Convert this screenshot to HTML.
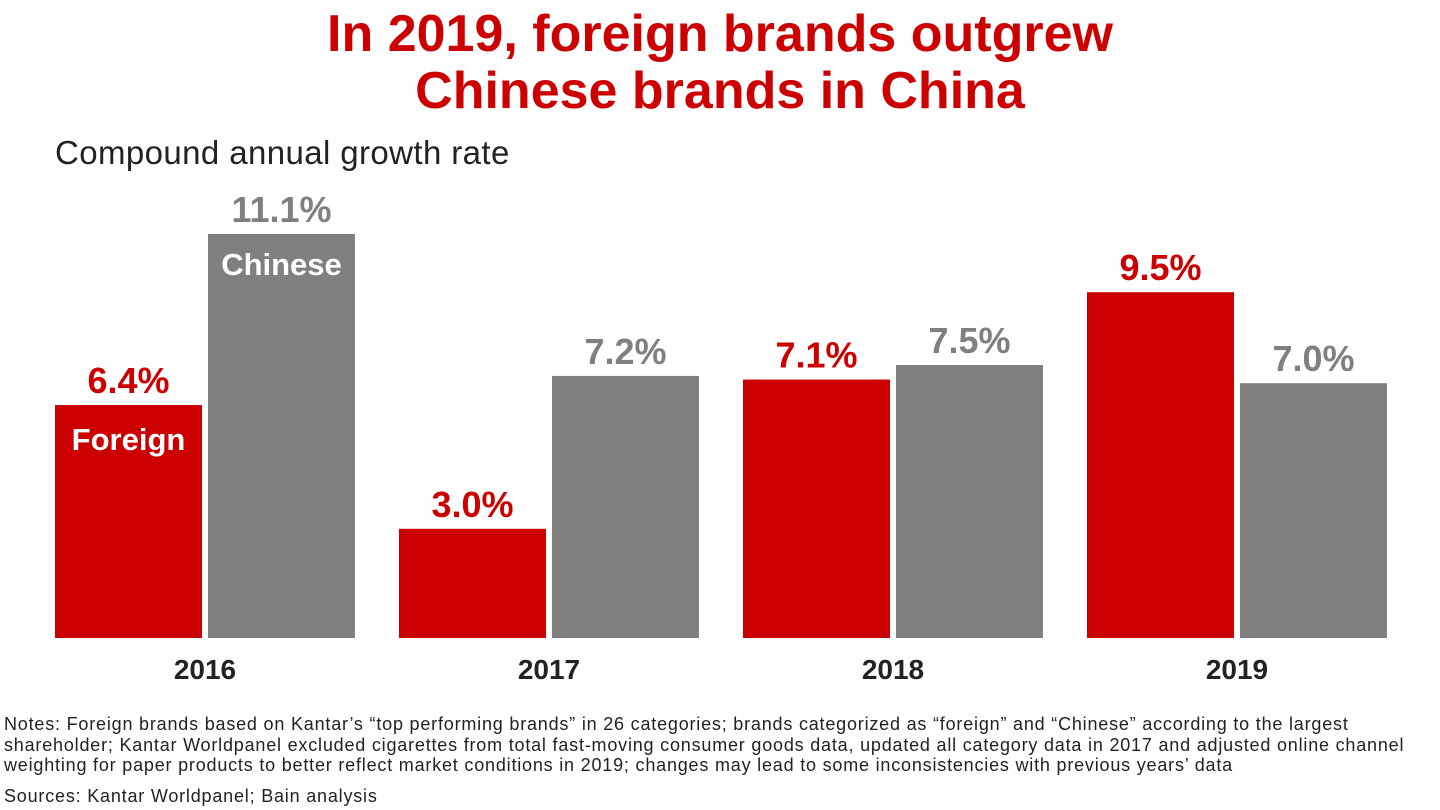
<!DOCTYPE html>
<html><head><meta charset="utf-8"><style>
body{margin:0;width:1440px;height:810px;background:#fff;font-family:"Liberation Sans",sans-serif;overflow:hidden;position:relative}
.t{position:absolute;left:0;width:1440px;text-align:center;color:#cc0000;font-weight:bold;font-size:52px;line-height:57px}
.sub{position:absolute;left:55px;top:134px;font-size:33px;color:#222;letter-spacing:0.4px}
.notes{position:absolute;left:4px;top:714px;font-size:18px;line-height:20.5px;color:#222;width:1432px;letter-spacing:0.8px}
</style></head><body>
<div class="t" style="top:6px">In 2019, foreign brands outgrew<br>Chinese brands in China</div>
<div class="sub">Compound annual growth rate</div>
<svg id="c" width="1440" height="700" style="position:absolute;left:0;top:0"></svg>
<div class="notes">Notes: Foreign brands based on Kantar’s “top performing brands” in 26 categories; brands categorized as “foreign” and “Chinese” according to the largest<br>shareholder; Kantar Worldpanel excluded cigarettes from total fast-moving consumer goods data, updated all category data in 2017 and adjusted online channel<br>weighting for paper products to better reflect market conditions in 2019; changes may lead to some inconsistencies with previous years’ data<div style="margin-top:10px">Sources: Kantar Worldpanel; Bain analysis</div></div>
<script>
const years=["2016","2017","2018","2019"];
const foreign=[6.4,3.0,7.1,9.5];
const chinese=[11.1,7.2,7.5,7.0];
const labelsF=["6.4%","3.0%","7.1%","9.5%"];
const labelsC=["11.1%","7.2%","7.5%","7.0%"];
const svg=document.getElementById('c');const NS='http://www.w3.org/2000/svg';
const base=638,scale=36.4,x0=55,step=344,bw=147,gap=6;
const y=v=>base-v*scale;
function mk(tag,attrs,txt){const e=document.createElementNS(NS,tag);for(const k in attrs)e.setAttribute(k,attrs[k]);if(txt)e.textContent=txt;svg.appendChild(e);return e;}
years.forEach((yr,i)=>{
 const xf=x0+i*step,xc=xf+bw+gap;
 let r=mk('rect',{x:xf,y:y(foreign[i]),width:bw,height:base-y(foreign[i]),fill:'#cc0000'});
 
 
 r=mk('rect',{x:xc,y:y(chinese[i]),width:bw,height:base-y(chinese[i]),fill:'#808080'});
 
 
 let t=mk('text',{x:xf+bw/2,y:y(foreign[i])-12,'text-anchor':'middle','font-size':36,'font-weight':'bold',fill:'#cc0000'},labelsF[i]);
 
 
 t=mk('text',{x:xc+bw/2,y:y(chinese[i])-12,'text-anchor':'middle','font-size':36,'font-weight':'bold',fill:'#808080'},labelsC[i]);
 
 
 t=mk('text',{x:xf+bw+gap/2,y:679,'text-anchor':'middle','font-size':28,'font-weight':'bold',fill:'#222'},yr);
 
 
});
let l=mk('text',{x:x0+bw/2,y:y(foreign[0])+45,'text-anchor':'middle','font-size':31,'font-weight':'bold',fill:'#fff'},'Foreign');


l=mk('text',{x:x0+bw+gap+bw/2,y:y(chinese[0])+41,'text-anchor':'middle','font-size':31,'font-weight':'bold',fill:'#fff'},'Chinese');


</script>
</body></html>
